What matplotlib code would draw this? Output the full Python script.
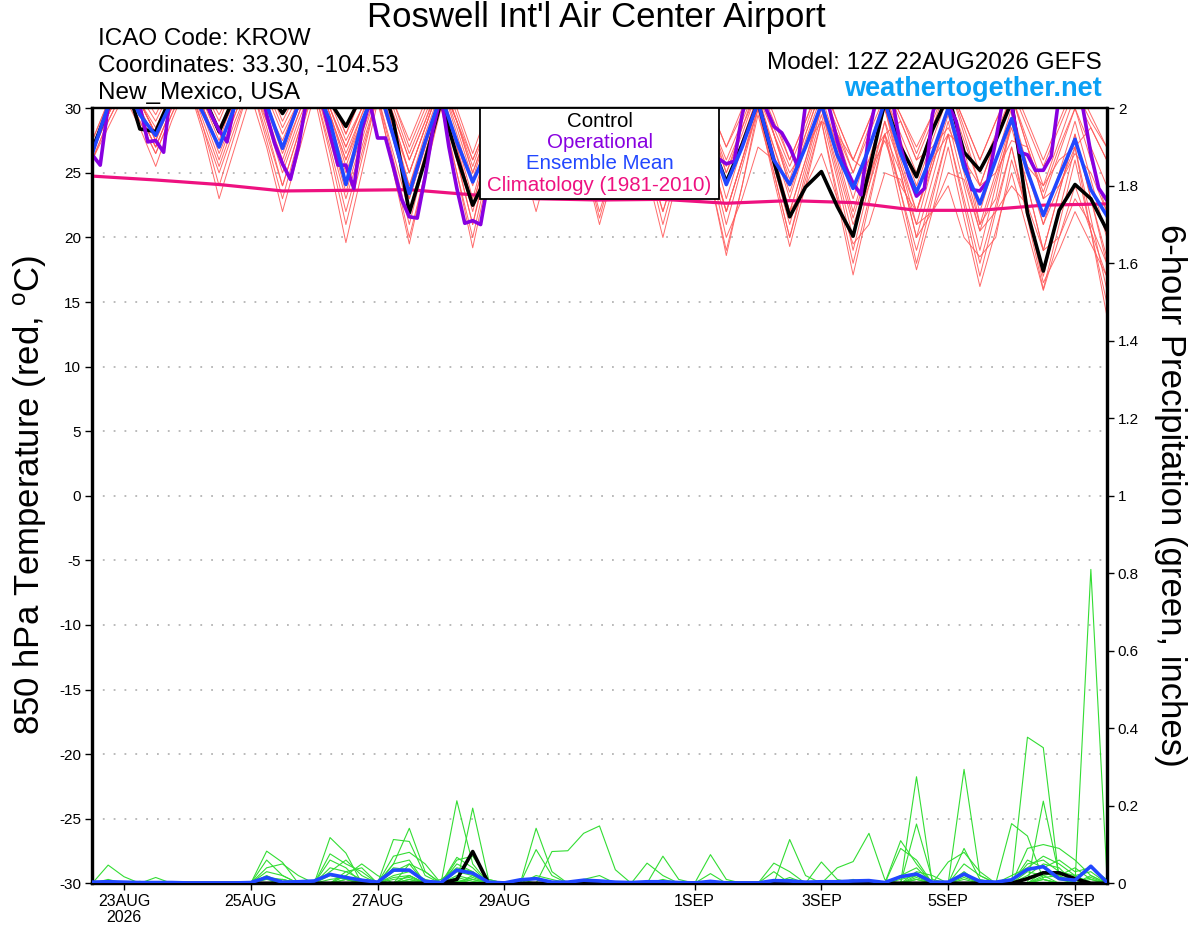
import numpy as np
import matplotlib
matplotlib.use("Agg")
import matplotlib.pyplot as plt
from matplotlib.patches import Rectangle

plt.rcParams['font.family'] = ['Liberation Sans', 'DejaVu Sans']
plt.rcParams['mathtext.default'] = 'regular'

# ---------------- data ----------------
# forecast steps: 6-hourly from 12Z 22AUG2026 (hour 0) to 12Z 7SEP2026 (hour 384)
step_hours = [6 * k for k in range(65)]
op_hours = [3 * k for k in range(129)]          # operational is 3-hourly
clim_hours = [24 * k for k in range(17)]        # daily climatology

control_temp = [26.8, 30.0, 32.5, 28.4, 28.2, 31, 33, 31, 28.2, 31,
                33.5, 31.5, 29.6, 31.5, 33, 30.5, 28.6, 31, 33, 29,
                21.9, 26, 30.5, 26.3, 22.5, 25, 30, 28, 25, 28,
                31, 29, 26, 29, 31.5, 29, 26.5, 29, 31, 27.5,
                24.3, 27.2, 30.5, 25.9, 21.6, 23.9, 25.1, 22.4, 20.1, 25.1,
                30.5, 27.0, 24.7, 28.3, 31, 26.6, 25.2, 27.5, 30.5, 21.9,
                17.4, 22.1, 24.1, 23.0, 20.6]

mean_temp = [26.5, 30.2, 32, 29.5, 27.9, 30.5, 32, 29.6, 27.0, 30.2,
             32, 30.3, 26.9, 30.3, 32, 29.0, 24.1, 28.9, 32, 27.8,
             23.4, 27.4, 31, 27.4, 24.3, 27, 31, 29, 26.5, 29,
             31, 29.5, 27, 29.5, 31, 29.5, 27, 29.5, 31, 27.6,
             24.1, 27.0, 30.5, 26.0, 24.1, 27.0, 30.3, 26.4, 23.8, 26.9,
             30.5, 26.5, 23.5, 26.5, 30, 25.4, 22.6, 26.0, 29.2, 25.1,
             21.7, 24.7, 27.6, 23.7, 21.7]

oper_temp = [26.4, 25.6, 30.2, 32, 33, 32, 30.2, 27.4, 27.5, 26.6,
             32, 33, 33.5, 32, 31, 29.5, 28.3, 27.4, 30.5, 32,
             33.5, 32.5, 29.5, 27.3, 25.7, 24.5, 27, 30.5, 32, 30.5,
             28, 25.6, 25.6, 23.8, 28.3, 30.5, 27.7, 27.7, 25.4, 23.0,
             21.6, 21.5, 24.7, 28.4, 31, 27, 23.8, 21.1, 21.3, 21.0,
             24.5, 28, 31, 32, 33, 32, 30, 28, 26.5, 26,
             27, 30, 32, 33, 32, 30, 28, 26.5, 26, 27.5,
             30.5, 32.5, 33, 31.5, 29, 27, 25.8, 25.5, 26, 26.1,
             25.7, 25.9, 29.5, 32, 31, 30, 28.6, 28.1, 27, 25.5,
             30.3, 32, 31, 30, 27.5, 25.5, 24.2, 23.3, 28, 31,
             32, 30.5, 27, 24.8, 23.2, 23.8, 29.5, 32, 30.3, 29,
             25.9, 23.7, 23.6, 24.4, 27.5, 31, 30.3, 26.6, 26.4, 25.2,
             25.2, 26.3, 31, 32, 32, 30, 26.5, 23.8, 22.9]

clim_temp = [24.75, 24.45, 24.1, 23.6, 23.65, 23.7, 23.3, 23.0, 22.9,
             22.95, 22.65, 22.85, 22.7, 22.1, 22.1, 22.5, 22.6]

mem01 = [27.5,30.5,33,31, 29,31.5,34,31.8, 29.5,32,34,31.8, 29.5,32,34,31, 28,31,34,30.5, 27,30,33,29.5, 26,29,32,30, 28,30.5,33,30.5, 28,30.5,33,30.5, 28,30.5,33,30, 27,29.5,32,29, 26,29,32,29, 26,29,32,29.5, 27,29.5,32,29, 26,29,32,29, 26,29,32,29.5, 27]
mem02 = [26.5,29.5,32,29.5, 27,30,33,29.5, 26,29.5,33,29, 25,28.5,32,27.5, 23,27,31,26.5, 22,26.5,31,27, 22.5,27,31,27.5, 24,28,32,28, 24,28,32,27.5, 23,27,31,26.5, 22,26,30,25.5, 21,25.5,30,25, 20,24.5,29,25.5, 22,26,30,25.5, 21,25,29,24, 19,23.5,28,23, 18]
mem03 = [27,30,33,30.5, 28,30.5,33,30, 27,30.5,34,30.5, 27,30,33,29.5, 26,29.5,33,29, 25,28.5,32,28, 24,28,32,29, 26,29,32,28.5, 25,29,33,29.5, 26,29,32,28.5, 25,28.5,32,28, 24,27.5,31,27, 23,27,31,28, 25,28.5,32,28, 24,27.5,31,27, 23,26.5,30,27, 24]
mem04 = [26,28.5,31,28.5, 25.5,29,32,28, 23,27,31,27, 22,26.5,31,25.5, 19.6,25,30.5,25.5, 20,25,30,25, 19.2,25,31,26.5, 22,26.5,31,26, 21,25.5,30,25, 20,25,30,24.5, 19,24,29.5,25, 20,24.5,29,23.5, 18,23,28,23.5, 19,23.5,28,22.5, 17,22,27,21.5, 16,21,26,20.5, 15]
mem05 = [27,30,32.5,30.5, 28.5,31,33.5,31, 28,30.5,33,30, 27.5,30.5,33,30, 26.5,29.5,32,28.5, 24,28,31.5,27.5, 23,27.5,32,29.5, 27,30,33,29.5, 26,29,32.5,30, 27,29.5,32,28, 24,27.5,31,28, 25,27,29,28, 26,25,27.5,24, 22,26,28,27, 21,23,29,25.5, 24,26,27,28.5, 26]
mem06 = [26.5,29.5,32,30, 27.5,30.5,33,30, 27,30,33,29.5, 26,29.5,32.5,29, 25,28.5,32,27.5, 23,27,31,26.5, 22,26.5,31,28, 25,28.5,32,28, 24,28,31.5,27, 23,27,31,26, 21,25.5,30,26, 22,26,30,25.5, 21,24,28,25, 20,22,25,24.5, 20.5,22,24,22.5, 19,20,23,21, 18]
mem07 = [27,30,33,30.5, 28,31,34,31, 28.5,31,33.5,31, 28,30.5,33,30, 27,30,33,30, 26.5,29.5,32.5,29, 25,28.5,32,29, 26,29,32.5,30, 27,30,33,29, 25,28.5,32,29, 26,29,32,28, 24,28,31.5,28.5, 25,28.5,32,29, 26,29,32,28.5, 25,28,31,27.5, 24,27.5,31,28.5, 26]
mem08 = [26,29,31.5,29, 26.5,29.5,32,28.5, 25,28.5,32,28, 24,28,31.5,26.5, 21,26,31,26, 21,26,30.5,25, 20,25.5,31,27, 23,27,31,26.5, 22,26,30.5,26, 22,26,30.5,24.5, 18.6,24,30,24.5, 19.3,24,29,23, 17.1,22.5,28,22.5, 17.5,22,27,21.5, 16.2,20.5,25,20.5, 15.9,20,24,20.5, 17]
mem09 = [27.5,30.5,33,30.5, 28,31,33.5,30.5, 27.5,31,34,31.5, 28.5,31,33.5,30.5, 27.5,30,33,29.5, 26,29,32,28.5, 24.5,28.5,32.5,30, 27.5,30,33,30, 27,30,33,30, 26.5,29.5,32.5,29, 25,28,31.5,28.5, 25.5,28.5,32,28, 24,26,28,29, 26,27,28.5,26, 24,25,27.5,27, 23,24,26.5,25, 22]
mem10 = [26.5,29.5,32,29.5, 27,30,32.5,29, 25.5,29,32,27.5, 23,27.5,31.5,27, 22,26.5,31,25, 19.5,25,30.5,26, 21,26.5,31.5,28, 24.5,28,31.5,27.5, 23,27,31,26, 21,25.5,30,26, 22,26,30,25, 20,25,29.5,24.5, 19,24,29,23.5, 18,23,28,23, 18,22.5,27,22, 17,22,27,21.5, 16]
mem11 = [27,30,32.5,30, 27.5,30.5,33,30.5, 28,31,33.5,30.5, 27,30,33,29.5, 25.5,29,32,28.5, 25,28.5,32,29, 26,29,32.5,29, 25,28.5,32,29, 25.5,29,32,28, 24,28,31.5,28, 24,27.5,31,27, 23,27,30.5,26.5, 22,26,30,25.5, 21,25.5,30,26, 22,26,30,25.5, 21,25,29,24.5, 20]
mem12 = [26,29,31.5,29, 26.5,29.5,32.5,28.5, 24,28,32,29, 25.5,29,32,28, 24,28,31.5,28, 24,27.5,31,27, 22.5,27,31,27, 23,27,31,26.5, 21.5,26,31,26.5, 22,26,30.5,25.5, 20,23,27,26, 22,24,26.5,23, 19.5,21,25,24.5, 21,22,24,20, 18.5,20,26,22, 16.5,19,22,19.5, 17]
mem13 = [27,30,33,30.5, 28,30.5,33,30, 27,30,33,30, 26.5,29.5,33,29.5, 26,29,32.5,29, 25,28.5,32,29, 25.5,29,32,29, 26,29,32.5,29, 26,29,32,28.5, 25,28.5,32,27.5, 23,27,31,26.5, 22,26,30.5,27, 24,27,30,25, 20,24.5,29,24, 19,24,29,25, 21,24,27,20.5, 14]
mem14 = [26.5,30,33.5,31.5, 29.5,32,34,31.5, 29,32,34.5,32, 29,31.5,34,31, 28,31,33.5,30.5, 27.5,30.5,33,30, 26.5,30,33,30.5, 28,31,33.5,30.5, 27.5,30.5,33,30, 27,30,33,30, 27,30,32.5,29.5, 26,29,32.5,29, 26,29,32,29.5, 26.5,29.5,32,29, 26,29,31.5,28.5, 25.5,28.5,31.5,29, 27]
mem15 = [27,29.5,32,29.5, 27,30,33,30, 26.5,29.5,32.5,28.5, 24,28,32,28, 23.5,27.5,31.5,27.5, 23,27,31,26, 21,26,31.5,28, 24,27.5,31.5,27.5, 23.5,27.5,31.5,28, 24,27.5,31,26.5, 22,26,30.5,27, 23.5,27,30.5,26, 21.5,25.5,30,26, 22,25.5,29.5,25, 20.5,24.5,28.5,24, 19,23.5,28,23, 18.5]
mem16 = [26.5,29.5,32.5,30.5, 28,31,33.5,31, 28,31,33.5,30.5, 27,30,33,30, 27,30,32.5,29.5, 26,29,32.5,29, 25,28.5,32,29.5, 27,29.5,32.5,29.5, 26.5,29.5,32.5,29, 26,29,32,29, 25.5,28.5,31.5,28, 24.5,28,31.5,28, 25,28,31,27.5, 24,27.5,31,27.5, 24,27.5,31,27, 23.5,27,30,26, 22]
member_temps = [mem01, mem02, mem03, mem04, mem05, mem06, mem07, mem08,
                mem09, mem10, mem11, mem12, mem13, mem14, mem15, mem16]

# 6-hour precipitation (inches)
control_precip = [0]*23 + [0.010, 0.082] + [0]*34 + [0.012, 0.027, 0.027, 0.012, 0, 0]
mean_precip = [0.003, 0.004, 0.003, 0.002, 0.002, 0.002, 0.001, 0.001, 0.001, 0.001,
               0.002, 0.015, 0.003, 0.004, 0.006, 0.023, 0.015, 0.008, 0.003, 0.034,
               0.034, 0.005, 0.002, 0.034, 0.026, 0.003, 0.001, 0.009, 0.012, 0.003,
               0.003, 0.008, 0.006, 0.003, 0.002, 0.004, 0.004, 0.002, 0.001, 0.005,
               0.001, 0.001, 0.001, 0.007, 0.006, 0.003, 0.004, 0.004, 0.006, 0.007,
               0.002, 0.017, 0.024, 0.003, 0.003, 0.024, 0.005, 0.003, 0.009, 0.036,
               0.043, 0.012, 0.008, 0.044, 0.003]

# member precipitation: nonzero 6-hour totals keyed by forecast step (others are 0)
pm01 = {1: .047, 2: .017, 11: .083, 12: .054, 15: .118, 16: .078, 19: .05, 20: .142, 21: .03,
        23: .213, 24: .05, 28: .142, 29: .03, 44: .113, 45: .02, 52: .275, 59: .377, 60: .35, 61: .01}
pm02 = {4: .015, 11: .06, 12: .02, 15: .076, 16: .05, 17: .03, 19: .113, 20: .108, 21: .02,
        24: .194, 25: .01, 27: .01, 29: .082, 30: .084, 31: .129, 32: .148, 33: .035,
        55: .294, 56: .02, 63: .81, 64: .03}
pm03 = {11: .04, 12: .05, 13: .02, 15: .04, 16: .03, 17: .04, 19: .07, 20: .08, 21: .05,
        23: .067, 24: .04, 35: .052, 36: .02, 47: .04, 48: .056, 49: .129, 50: .01,
        52: .153, 53: .01, 60: .212, 61: .02}
pm04 = {1: .01, 11: .03, 12: .02, 15: .06, 16: .04, 19: .05, 20: .06, 23: .06, 24: .07, 25: .01,
        28: .087, 29: .02, 36: .07, 37: .01, 51: .11, 52: .05, 55: .09, 56: .01,
        58: .154, 59: .122, 60: .01}
pm05 = {3: .005, 12: .01, 16: .02, 17: .05, 18: .02, 20: .05, 21: .03, 23: .05, 24: .03,
        39: .074, 40: .01, 43: .052, 44: .03, 51: .09, 52: .06, 59: .09, 60: .1, 61: .09,
        62: .06, 63: .02}
pm06 = {11: .02, 15: .03, 16: .06, 17: .02, 19: .04, 20: .035, 22: .01, 23: .04, 24: .03,
        31: .01, 32: .02, 39: .025, 43: .03, 46: .055, 47: .01, 54: .055, 55: .08, 56: .03,
        59: .05, 60: .06, 61: .03, 62: .02, 64: .01}
pm07 = {12: .01, 16: .02, 19: .02, 20: .03, 21: .01, 24: .02, 28: .02, 29: .01, 36: .01,
        44: .015, 52: .03, 53: .02, 55: .03, 58: .02, 59: .04, 60: .07, 61: .05, 62: .02, 63: .03}
pm08 = {15: .01, 16: .015, 19: .03, 20: .05, 23: .03, 24: .02, 40: .005, 44: .01, 51: .02,
        52: .04, 56: .005, 59: .06, 60: .04, 61: .06, 62: .03, 63: .04, 64: .01}
pm09 = {11: .01, 16: .03, 17: .01, 20: .02, 23: .02, 24: .01, 48: .01, 52: .02, 55: .05,
        56: .02, 60: .03, 61: .02, 62: .04, 63: .01}
pm10 = {16: .01, 19: .01, 20: .015, 23: .01, 44: .005, 52: .01, 59: .02, 60: .05, 61: .04, 63: .02}
pm11 = {20: .01, 24: .01, 48: .005, 55: .01, 60: .02, 61: .03, 62: .01}
pm12 = {15: .02, 16: .01, 20: .02, 23: .015, 24: .005, 52: .015, 55: .02, 59: .03, 60: .02, 63: .015}
pm13 = {19: .015, 20: .02, 24: .015, 51: .01, 52: .02, 59: .015, 60: .03, 61: .01, 62: .02}
pm14 = {11: .015, 12: .01, 16: .01, 20: .01, 44: .01, 55: .015, 60: .015, 61: .02}
pm15 = {23: .005, 56: .005, 60: .01}
pm16 = {20: .005, 52: .01, 60: .01, 63: .01}
member_precip = [pm01, pm02, pm03, pm04, pm05, pm06, pm07, pm08,
                 pm09, pm10, pm11, pm12, pm13, pm14, pm15, pm16]

xtick_hours = [12, 60, 108, 156, 228, 276, 324, 372]
xtick_labels = ['23AUG\n2026', '25AUG', '27AUG', '29AUG', '1SEP', '3SEP', '5SEP', '7SEP']
temp_ticks = list(range(-30, 31, 5))
precip_ticks = [0, 0.2, 0.4, 0.6, 0.8, 1, 1.2, 1.4, 1.6, 1.8, 2]

# ---------------- figure ----------------
W, H = 1200, 927
fig = plt.figure(figsize=(W / 100, H / 100), dpi=100)
L, R, T, B = 92.3, 1106.7, 108.3, 883.3
ax = fig.add_axes([L / W, 1 - B / H, (R - L) / W, (B - T) / H])
ax2 = ax.twinx()

RED = '#ff5a5a'
GREEN = '#33dd33'
PURPLE = '#8800e0'
BLUE = '#2147ff'
PINK = '#ee1180'

ax.set_xlim(0, 384)
ax.set_ylim(-30, 30)
ax2.set_ylim(0, 2)

for v in temp_ticks[1:-1]:
    ax.axhline(v, color='#b4b4b4', lw=1.3, ls=(0, (1, 5)), zorder=0.5)

# temperature
for m in member_temps:
    ax.plot(step_hours, m, color=RED, lw=0.7, alpha=0.9, zorder=2)
ax.plot(clim_hours, clim_temp, color=PINK, lw=2.3, zorder=3)
ax.plot(step_hours, control_temp, color='black', lw=2.6, zorder=4)
ax.plot(op_hours, oper_temp, color=PURPLE, lw=2.6, zorder=5)
ax.plot(step_hours, mean_temp, color=BLUE, lw=2.6, zorder=6)

# precipitation
for pm in member_precip:
    vals = np.zeros(len(step_hours))
    for k, v in pm.items():
        vals[k] = v
    ax2.plot(step_hours, vals, color=GREEN, lw=0.8, zorder=2)
ax2.plot(step_hours, control_precip, color='black', lw=2.6, zorder=4)
ax2.plot(step_hours, mean_precip, color=BLUE, lw=2.6, zorder=5)

# axes styling
ax.set_yticks(temp_ticks)
ax.set_yticklabels([str(t) for t in temp_ticks], fontsize=11)
ax2.set_yticks(precip_ticks)
ax2.set_yticklabels(['0', '0.2', '0.4', '0.6', '0.8', '1', '1.2', '1.4', '1.6', '1.8', '2'], fontsize=11)
ax.set_xticks(xtick_hours)
ax.set_xticklabels(xtick_labels, fontsize=11.5, linespacing=1.05)
ax.tick_params(axis='both', direction='out', length=5, width=1, pad=3)
ax2.tick_params(axis='y', direction='out', length=5, width=1, pad=3)

for a in (ax, ax2):
    for s in ('left', 'right', 'bottom'):
        a.spines[s].set_linewidth(2.3)
    a.spines['top'].set_linewidth(1.6)

# legend box
ax2.add_patch(Rectangle((0.3822, 0.883), 0.2359, 0.117, transform=ax2.transAxes,
                        facecolor='white', edgecolor='black', lw=1.3, zorder=20, clip_on=False))
leg = [('Control', 'black', 0.9836), ('Operational', PURPLE, 0.9565),
       ('Ensemble Mean', BLUE, 0.9294), ('Climatology (1981-2010)', PINK, 0.9010)]
for txt, c, yy in leg:
    ax2.text(0.5, yy, txt, color=c, fontsize=14.8, ha='center', va='center',
             transform=ax2.transAxes, zorder=21)

# header texts
fig.text(596 / W, 1 - 18 / H, "Roswell Int'l Air Center Airport", fontsize=25, ha='center', va='center')
fig.text(98 / W, 1 - 39 / H, "ICAO Code: KROW", fontsize=17.5, ha='left', va='center')
fig.text(98 / W, 1 - 66 / H, "Coordinates: 33.30, -104.53", fontsize=17.5, ha='left', va='center')
fig.text(98 / W, 1 - 93 / H, "New_Mexico, USA", fontsize=17.5, ha='left', va='center')
fig.text(1102 / W, 1 - 63 / H, "Model: 12Z 22AUG2026 GEFS", fontsize=17.5, ha='right', va='center')
fig.text(1102 / W, 1 - 89 / H, "weathertogether.net", fontsize=19.5, ha='right', va='center',
         color='#0aa0f5', fontweight='bold')

fig.text(30 / W, 1 - 495 / H, "850 hPa Temperature (red, $^{o}$C)", fontsize=25,
         rotation=90, ha='center', va='center')
fig.text(1170 / W, 1 - 495 / H, "6-hour Precipitation (green, inches)", fontsize=25,
         rotation=270, ha='center', va='center')

fig.savefig('out.png', dpi=100)
